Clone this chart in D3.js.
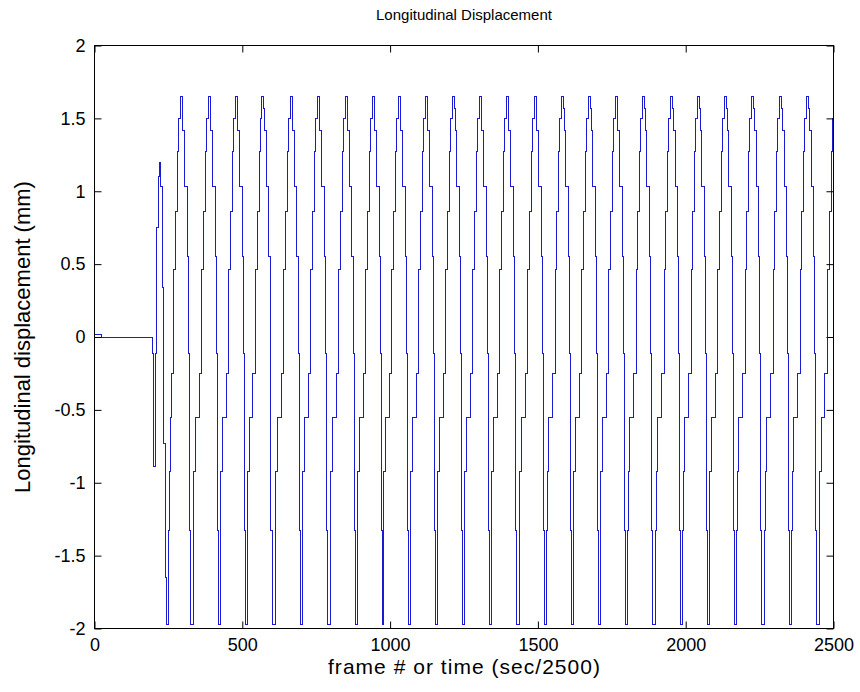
<!DOCTYPE html>
<html>
<head>
<meta charset="utf-8">
<script src="https://cdn.jsdelivr.net/npm/d3@7"></script>
<style>
  body { margin: 0; background: #fff; }
  text { font-family: "Liberation Sans", Arial, Helvetica, sans-serif; fill: #000; }
</style>
</head>
<body>
<svg id="chart" width="860" height="692"></svg>
<script>
// start of the record, before the oscillation settles (frame, mm)
var startFrames = [0, 22, 197, 199, 206, 211, 216, 220, 224, 229, 235, 241, 243, 250, 253, 257];
var startValues = [0.015, 0, -0.11, -0.89, -0.11, 0.75, 1.1, 1.2, 1.03, 0.34, -0.73, -1.65, -1.97, -1.33, -0.92, -0.55];

// frame of each 1.65 mm peak
var peakFrames = [293, 388, 479, 570, 665, 757, 851, 943, 1031, 1122, 1214, 1305, 1396,
                  1491, 1583, 1674, 1765, 1857, 1952, 2043, 2134, 2226, 2321, 2412, 2505];

// staircase around a peak: frame offset from the peak and level held from there
var stepOffsets = [-54, -52, -47, -34, -25, -19, -12.5, -9, -3.4, 3.4, 5.8, 12, 20, 24, 27, 31];
var stepLevels = [-1.33, -0.92, -0.55, -0.25, 0.46, 0.86, 1.27, 1.5, 1.65, 1.57, 1.42, 1.03, 0.55, -0.11, -1.33, -1.97];

var xTicks = [0, 500, 1000, 1500, 2000, 2500];
var yTicks = [-2, -1.5, -1, -0.5, 0, 0.5, 1, 1.5, 2];

var svg = d3.select("#chart");
var plotL = 94.5, plotR = 833.5, plotT = 45.5, plotB = 628.5;

var x = d3.scaleLinear().domain([0, 2500]).range([plotL, plotR]);
var y = d3.scaleLinear().domain([-2, 2]).range([plotB, plotT]);

// build the held steps
var pts = startFrames.map(function(f, i) { return [f, startValues[i]]; });
peakFrames.forEach(function(p) {
    stepOffsets.forEach(function(o, i) {
        var f = p + o;
        if (f > pts[pts.length - 1][0] && f <= 2500) pts.push([f, stepLevels[i]]);
    });
});
pts.push([2500, pts[pts.length - 1][1]]);

svg.append("clipPath").attr("id", "clip")
    .append("rect")
    .attr("x", plotL).attr("y", plotT)
    .attr("width", plotR - plotL).attr("height", plotB - plotT);

var line = d3.line()
    .x(function(d) { return x(d[0]); })
    .y(function(d) { return y(d[1]); })
    .curve(d3.curveStepAfter);

svg.append("path")
    .datum(pts)
    .attr("clip-path", "url(#clip)")
    .attr("d", line)
    .attr("fill", "none")
    .attr("stroke", "#1a1ad0")
    .attr("stroke-width", 1)
    .attr("shape-rendering", "crispEdges");

// axes, ticks pointing inwards on all four sides
var fmt = function(d) { return String(d); };
var gx = svg.append("g").attr("transform", "translate(0," + plotB + ")")
    .call(d3.axisBottom(x).tickValues(xTicks).tickFormat(fmt).tickSize(-7).tickSizeOuter(0).tickPadding(10));
var gy = svg.append("g").attr("transform", "translate(" + plotL + ",0)")
    .call(d3.axisLeft(y).tickValues(yTicks).tickFormat(fmt).tickSize(-7).tickSizeOuter(0).tickPadding(9));
var gt = svg.append("g").attr("transform", "translate(0," + plotT + ")")
    .call(d3.axisTop(x).tickValues(xTicks).tickFormat("").tickSize(-7).tickSizeOuter(0));
var gr = svg.append("g").attr("transform", "translate(" + plotR + ",0)")
    .call(d3.axisRight(y).tickValues(yTicks).tickFormat("").tickSize(-7).tickSizeOuter(0));

[gx, gy, gt, gr].forEach(function(g) {
    g.select(".domain").remove();
    g.selectAll("line").attr("stroke", "#000");
    g.selectAll("text").style("font-size", "18px").attr("fill", "#000");
});

svg.append("rect")
    .attr("x", plotL).attr("y", plotT)
    .attr("width", plotR - plotL).attr("height", plotB - plotT)
    .attr("fill", "none").attr("stroke", "#000").attr("stroke-width", 1);

svg.append("text")
    .attr("x", (plotL + plotR) / 2).attr("y", 20)
    .attr("text-anchor", "middle")
    .style("font-size", "15px")
    .text("Longitudinal Displacement");

svg.append("text")
    .attr("x", (plotL + plotR) / 2).attr("y", 674)
    .attr("text-anchor", "middle")
    .attr("textLength", 272)
    .attr("lengthAdjust", "spacing")
    .style("font-size", "21px")
    .text("frame # or time (sec/2500)");

svg.append("text")
    .attr("transform", "translate(30," + ((plotT + plotB) / 2) + ") rotate(-90)")
    .attr("text-anchor", "middle")
    .style("font-size", "22px")
    .text("Longitudinal displacement (mm)");
</script>
</body>
</html>
